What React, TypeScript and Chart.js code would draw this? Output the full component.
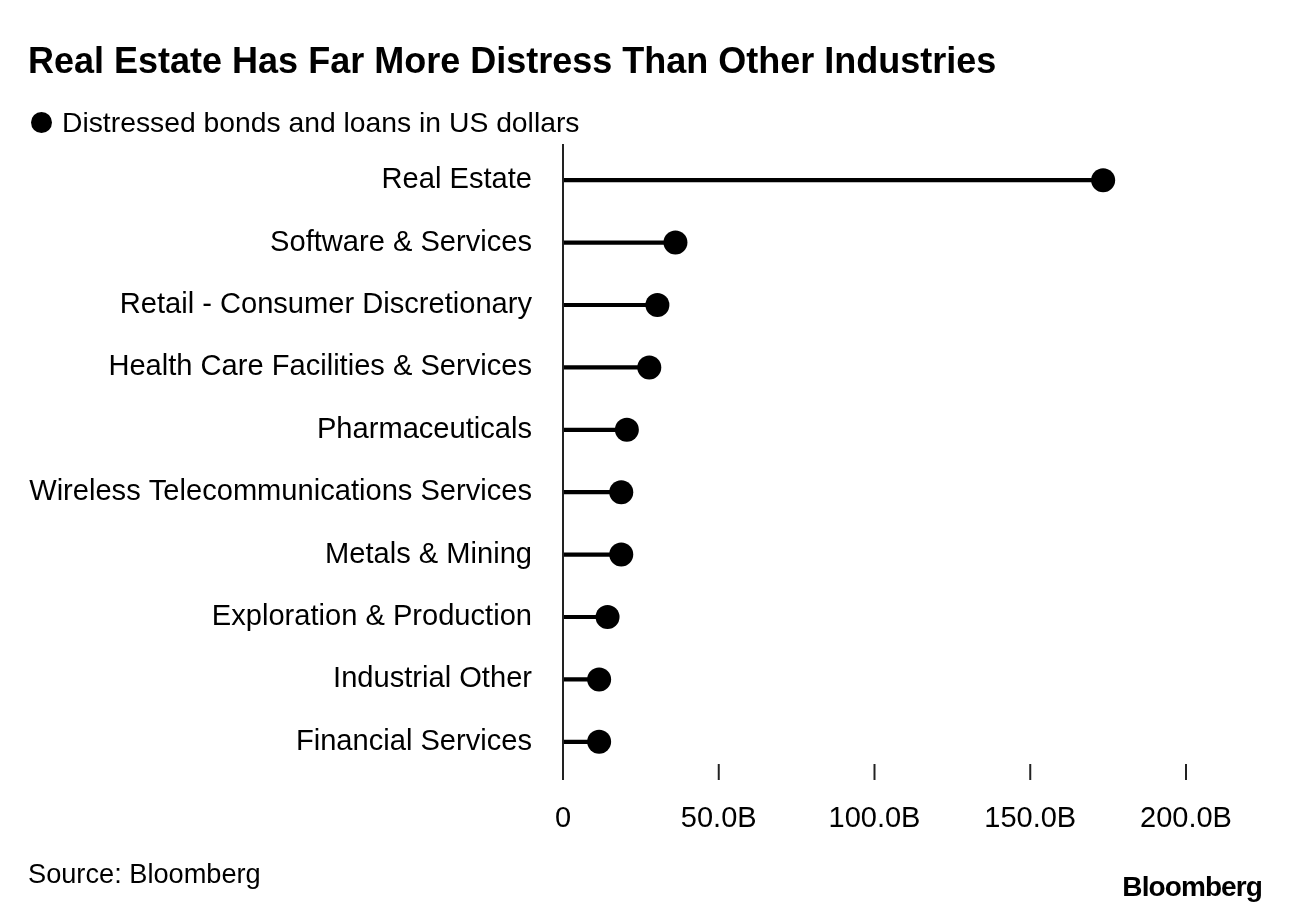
import React, { useEffect, useRef } from "react";
import { Chart, registerables } from "chart.js";

Chart.register(...registerables);

const categories = [
  "Real Estate",
  "Software & Services",
  "Retail - Consumer Discretionary",
  "Health Care Facilities & Services",
  "Pharmaceuticals",
  "Wireless Telecommunications Services",
  "Metals & Mining",
  "Exploration & Production",
  "Industrial Other",
  "Financial Services",
];

// billions of US dollars
const values = [173.4, 36.1, 30.3, 27.7, 20.5, 18.7, 18.7, 14.3, 11.6, 11.6];

const xTicks = [0, 50, 100, 150, 200];
const xTickLabels = ["0", "50.0B", "100.0B", "150.0B", "200.0B"];

const FONT = "'Liberation Sans', Arial, sans-serif";

const axisPlugin = {
  id: "lollipopAxis",
  afterDatasetsDraw(chart: any) {
    const { ctx, chartArea, scales } = chart;
    const x = scales.x;
    ctx.save();
    ctx.strokeStyle = "#222";
    ctx.lineWidth = 2;
    const x0 = x.getPixelForValue(0);
    ctx.beginPath();
    ctx.moveTo(x0, chartArea.top - 5);
    ctx.lineTo(x0, chartArea.bottom + 7);
    ctx.stroke();
    xTicks.slice(1).forEach((v) => {
      const px = x.getPixelForValue(v);
      ctx.beginPath();
      ctx.moveTo(px, chartArea.bottom - 9);
      ctx.lineTo(px, chartArea.bottom + 7);
      ctx.stroke();
    });
    ctx.restore();
  },
};

export default function App() {
  const ref = useRef<HTMLCanvasElement>(null);

  useEffect(() => {
    document.body.style.margin = "0";
    const canvas = ref.current;
    if (!canvas) return;
    const chart = new Chart(canvas, {
      type: "bar",
      data: {
        labels: categories,
        datasets: [
          {
            type: "bar",
            label: "stem",
            data: values,
            backgroundColor: "#000",
            barThickness: 3.5,
            borderWidth: 0,
          } as any,
          {
            type: "line",
            label: "Distressed bonds and loans in US dollars",
            data: values,
            showLine: false,
            pointRadius: 12,
            pointHoverRadius: 12,
            pointBackgroundColor: "#000",
            pointBorderWidth: 0,
            borderColor: "#000",
            indexAxis: "y",
          } as any,
        ],
      },
      options: {
        indexAxis: "y",
        animation: false,
        responsive: false,
        devicePixelRatio: 1,
        layout: { padding: { left: 28, right: 104, top: 149, bottom: 0 } },
        plugins: {
          legend: { display: false },
          tooltip: { enabled: false },
          title: { display: false },
        },
        scales: {
          x: {
            type: "linear",
            min: 0,
            max: 200,
            afterBuildTicks(scale: any) {
              scale.ticks = xTicks.map((v) => ({ value: v }));
            },
            afterFit(scale: any) {
              scale.height = 914 - 773;
            },
            grid: { display: false, drawTicks: false },
            border: { display: false },
            ticks: {
              padding: 29,
              color: "#000",
              font: { family: FONT, size: 29 },
              callback: (_v: any, i: number) => xTickLabels[i],
              maxRotation: 0,
              autoSkip: false,
            },
          },
          y: {
            type: "category",
            offset: true,
            afterFit(scale: any) {
              scale.width = 563 - 28;
            },
            grid: { display: false, drawTicks: false },
            border: { display: false },
            ticks: {
              padding: 31,
              color: "#000",
              font: { family: FONT, size: 29.1 },
              autoSkip: false,
            },
          },
        },
      },
      plugins: [axisPlugin],
    } as any);
    return () => chart.destroy();
  }, []);

  return (
    <div style={{ position: "relative", width: 1290, height: 914, background: "#fff", fontFamily: FONT, color: "#000", overflow: "hidden" }}>
      <canvas ref={ref} width={1290} height={914} style={{ position: "absolute", left: 0, top: 0, width: 1290, height: 914 }} />
      <div style={{ position: "absolute", left: 28, top: 40, fontSize: 36, fontWeight: 700, lineHeight: "42px", whiteSpace: "nowrap" }}>
        Real Estate Has Far More Distress Than Other Industries
      </div>
      <div style={{ position: "absolute", left: 31, top: 105, fontSize: 28.3, lineHeight: "34px", whiteSpace: "nowrap", display: "flex", alignItems: "center" }}>
        <span style={{ display: "inline-block", width: 21, height: 21, borderRadius: "50%", background: "#000", marginRight: 10 }} />
        Distressed bonds and loans in US dollars
      </div>
      <div style={{ position: "absolute", left: 28, top: 857, fontSize: 27.2, lineHeight: "34px", whiteSpace: "nowrap" }}>
        Source: Bloomberg
      </div>
      <div style={{ position: "absolute", right: 28, top: 871, fontSize: 28, fontWeight: 700, letterSpacing: -0.9, lineHeight: "32px", whiteSpace: "nowrap" }}>
        Bloomberg
      </div>
    </div>
  );
}
